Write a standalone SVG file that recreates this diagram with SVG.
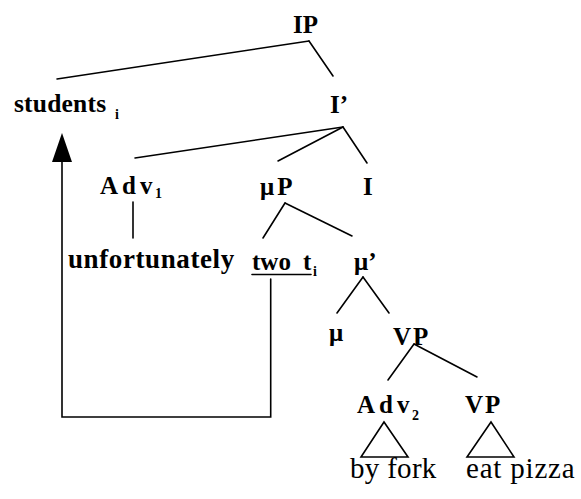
<svg xmlns="http://www.w3.org/2000/svg" width="581" height="499" viewBox="0 0 581 499">
<style>
.lbl{font-family:"Liberation Serif","Times New Roman",serif;font-weight:bold;font-size:25px;fill:#000}
.word{font-family:"Liberation Serif","Times New Roman",serif;font-weight:bold;fill:#000}
.sub{font-family:"Liberation Serif","Times New Roman",serif;font-weight:bold;font-size:14px;fill:#000}
.leaf{font-family:"Liberation Serif","Times New Roman",serif;font-size:29px;fill:#000}
.edge{stroke:#000;stroke-width:1.6;fill:none;stroke-linecap:round}
.tri{stroke:#000;stroke-width:1.6;fill:none;stroke-linejoin:miter}
</style>
<defs>
<marker id="arrow" viewBox="0 0 29 20" refX="12" refY="10" markerWidth="29" markerHeight="20" markerUnits="userSpaceOnUse" orient="auto">
<path d="M0,0 L29,10 L0,20 z" fill="#000"/>
</marker>
</defs>
<rect width="581" height="499" fill="#fff"/>
<g id="connectors">
<line class="edge" x1="309" y1="41" x2="57" y2="79"/>
<line class="edge" x1="309" y1="41" x2="333" y2="76"/>
<line class="edge" x1="343" y1="127" x2="135" y2="158"/>
<line class="edge" x1="343" y1="127" x2="278" y2="161"/>
<line class="edge" x1="343" y1="127" x2="367" y2="163"/>
<line class="edge" x1="133" y1="202" x2="133" y2="238"/>
<line class="edge" x1="285" y1="203" x2="263" y2="238"/>
<line class="edge" x1="285" y1="203" x2="352" y2="236"/>
<line class="edge" x1="363" y1="277" x2="337" y2="313"/>
<line class="edge" x1="363" y1="277" x2="389" y2="313"/>
<line class="edge" x1="414" y1="344" x2="388" y2="380"/>
<line class="edge" x1="414" y1="344" x2="477" y2="377"/>
<polygon class="tri" points="384,422 361,457 408,457"/>
<polygon class="tri" points="491,422 467,457 514,457"/>
<path class="edge" d="M270.7,279 V417 H62 V150" marker-end="url(#arrow)"/>
</g>
<g id="node-IP"><text class="lbl" x="293" y="33">IP</text></g>
<g id="node-students"><text class="word" x="14" y="112" font-size="25.5" letter-spacing="0.2">students</text><text class="sub" x="115" y="118.5">i</text></g>
<g id="node-Ibar"><text class="lbl" x="330" y="113">I’</text></g>
<g id="node-Adv1"><text class="lbl" x="100" y="194">A<tspan dx="4">d</tspan><tspan dx="4">v</tspan></text><text class="sub" x="155" y="198" font-size="13">1</text></g>
<g id="node-muP"><text class="lbl" x="260" y="195">μ<tspan dx="3">P</tspan></text></g>
<g id="node-I"><text class="lbl" x="363" y="195">I</text></g>
<g id="node-unfortunately"><text class="word" x="68" y="268" font-size="27" letter-spacing="0.6">unfortunately</text></g>
<g id="node-two-t"><text class="word" x="252" y="270" font-size="25">two<tspan x="303">t</tspan></text><text class="sub" x="313" y="276">i</text><line class="edge" x1="252" y1="274.5" x2="311" y2="274.5" stroke-linecap="butt"/></g>
<g id="node-mubar"><text class="lbl" x="354" y="270" font-size="24">μ’</text></g>
<g id="node-mu"><text class="lbl" x="329" y="341">μ</text></g>
<g id="node-VP1"><text class="lbl" x="393" y="345">V<tspan dx="2">P</tspan></text></g>
<g id="node-Adv2"><text class="lbl" x="357" y="413">A<tspan dx="4">d</tspan><tspan dx="4">v</tspan></text><text class="sub" x="412" y="420">2</text></g>
<g id="node-VP2"><text class="lbl" x="465" y="413">V<tspan dx="2">P</tspan></text></g>
<g id="node-byfork"><text class="leaf" x="350" y="478" letter-spacing="0.3">by fork</text></g>
<g id="node-eatpizza"><text class="leaf" x="466" y="478" letter-spacing="0.8">eat pizza</text></g>
</svg>
